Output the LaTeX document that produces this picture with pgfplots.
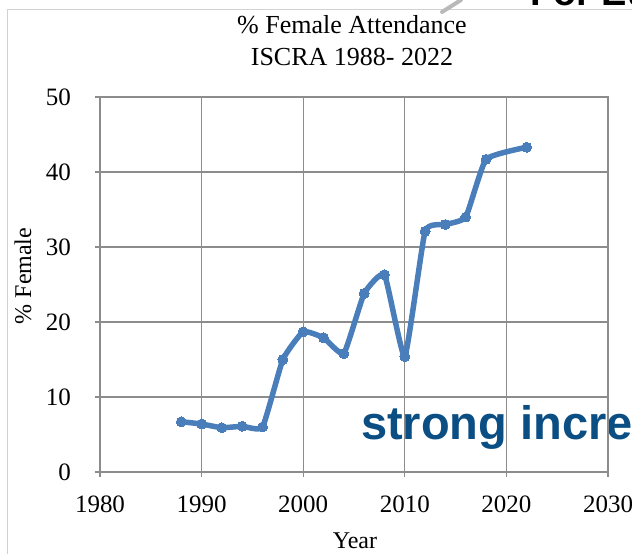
\documentclass[border=0pt]{standalone}
\usepackage{fontspec}
\setmainfont{Liberation Serif}
\newfontfamily\sansfont{Liberation Sans}
\usepackage{pgfplots}
\pgfplotsset{compat=1.18}
\definecolor{lineblue}{RGB}{74,126,187}
\definecolor{textblue}{RGB}{11,78,131}
\definecolor{gridgray}{RGB}{140,140,140}
\begin{document}
\begin{tikzpicture}[x=1pt,y=1pt]
\path[use as bounding box] (0,0) rectangle (632,554);
\clip (0,0) rectangle (632,554);
\draw[gray!35, line width=1pt] (7,0) -- (7,544) -- (632,544);
\draw[gray!55, line width=4pt, line cap=round] (442,542) -- (461,554);
\node[anchor=base west, inner sep=0pt, font=\sansfont\bfseries\fontsize{38}{40}\selectfont] at (530,548) {For Eu};
\node[anchor=base west, inner sep=0pt, text=textblue, font=\sansfont\bfseries\fontsize{47}{52}\selectfont] at (361,114) {strong incre};
\begin{axis}[
  at={(100pt,82pt)}, anchor=south west,
  scale only axis, width=508pt, height=375pt,
  xmin=1980, xmax=2030, ymin=0, ymax=50,
  xtick={1980,1990,2000,2010,2020,2030},
  ytick={0,10,20,30,40,50},
  xtick pos=bottom, ytick pos=left,
  tick align=outside, major tick length=5pt,
  grid=major,
  grid style={draw=gridgray, line width=1.1pt},
  axis line style={draw=gridgray, line width=1.1pt},
  tick style={draw=gridgray, line width=1.1pt},
  /pgf/number format/assume math mode=true,
  /pgf/number format/1000 sep={},
  tick label style={font=\fontsize{25}{30}\selectfont},
  xticklabel style={anchor=base, inner sep=0pt, yshift=-36pt},
  yticklabel style={anchor=east, inner sep=0pt, xshift=-24pt},
  title={\% Female Attendance\\ISCRA 1988- 2022},
  title style={at={(axis description cs:0.496,1.203)}, anchor=north, align=center, inner sep=0pt, font=\fontsize{26}{32.5}\selectfont},
  xlabel={Year},
  xlabel style={at={(axis description cs:0.502,-0.2053)}, anchor=base, inner sep=0pt, font=\fontsize{24}{28}\selectfont},
  ylabel={\% Female},
  ylabel style={at={(axis description cs:-0.1358,0.5227)}, anchor=base, rotate=0, inner sep=0pt, font=\fontsize{24}{28}\selectfont},
]
\addplot[color=lineblue, line width=5.5pt, smooth, tension=0.25, mark=*, mark size=5pt,
  mark options={solid, fill=lineblue, draw=lineblue, line width=0pt}] coordinates {
(1988,6.7) (1990,6.4) (1992,5.9) (1994,6.1) (1996,6.0) (1998,15.0) (2000,18.7)
(2002,17.9) (2004,15.8) (2006,23.8) (2008,26.3) (2010,15.4) (2012,32.1)
(2014,33.0) (2016,34.0) (2018,41.7) (2022,43.3)
};
\end{axis}
\end{tikzpicture}
\end{document}
